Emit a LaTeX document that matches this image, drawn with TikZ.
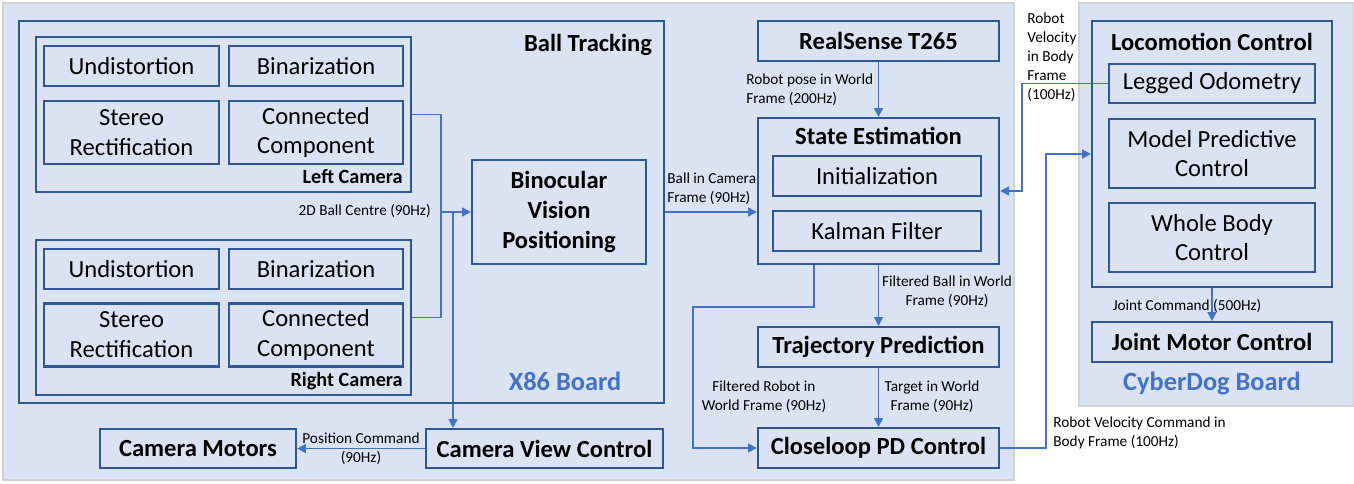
\documentclass[tikz,border=0pt]{standalone}
\usepackage{fontspec}
\setmainfont{Carlito}
\usepackage{tikz}
\usetikzlibrary{arrows.meta,calc}
\definecolor{bgblue}{HTML}{DAE3F3}
\definecolor{boxblue}{HTML}{2F5597}
\definecolor{lineblue}{HTML}{4472C4}
\newcommand{\boxfont}{\fontsize{14}{17}\selectfont}
\newcommand{\lblfont}{\fontsize{8.7}{10.8}\selectfont}
\newcommand{\camfont}{\fontsize{11.5}{14}\selectfont\bfseries}
\newcommand{\boardfont}{\fontsize{15}{18}\selectfont\bfseries}
\pgfdeclarelayer{bglayer}
\pgfdeclarelayer{edgelayer}
\pgfdeclarelayer{nodelayer}
\pgfsetlayers{bglayer,edgelayer,nodelayer,main}
\tikzstyle{region}=[fill=bgblue,draw=black!18,line width=0.6]
\tikzstyle{frame}=[rectangle,draw=boxblue,line width=1.2,inner sep=0pt]
\tikzstyle{block}=[rectangle,draw=boxblue,line width=1.2,inner sep=0pt,align=center,font=\boxfont]
\tikzstyle{bblock}=[block,font=\boxfont\bfseries]
\tikzstyle{title}=[inner sep=0pt,font=\boxfont\bfseries]
\tikzstyle{camlabel}=[inner sep=0pt,anchor=east,font=\camfont]
\tikzstyle{board}=[inner sep=0pt,font=\boardfont,text=lineblue]
\tikzstyle{lbl}=[inner sep=0pt,align=center,font=\lblfont]
\tikzstyle{flow}=[->,>={Triangle[length=5pt,width=5pt]},draw=lineblue,line width=1.0]
\tikzstyle{wire}=[-,draw=lineblue,line width=1.0]

\begin{document}
\begin{tikzpicture}[x=0.02cm,y=-0.02cm]
	\useasboundingbox (0,0) rectangle (1354,483);
	\begin{pgfonlayer}{bglayer}
		\draw [style=region] (3,3) rectangle (1014,480);
		\draw [style=region] (1079,3) rectangle (1354,406);
	\end{pgfonlayer}
	\begin{pgfonlayer}{nodelayer}
		% ball tracking on the x86 board
		\node [style=frame, minimum width=12.9cm, minimum height=7.64cm] (track) at (341.5,212) {};
		\node [style=title] (tracktitle) at (588,45) {Ball Tracking};
		\node [style=frame, minimum width=7.5cm, minimum height=3.1cm] (leftcam) at (223.5,114.5) {};
		\node [style=block, minimum width=3.5cm, minimum height=0.8cm] (lundist) at (131.5,66) {Undistortion};
		\node [style=block, minimum width=3.48cm, minimum height=0.8cm] (lbin) at (316,66) {Binarization};
		\node [style=block, minimum width=3.5cm, minimum height=1.26cm] (lstereo) at (131.5,132.5) {Stereo\\Rectification};
		\node [style=block, minimum width=3.48cm, minimum height=1.26cm] (lconn) at (316,132.5) {Connected\\Component};
		\node [style=camlabel] (leftname) at (403,177) {Left Camera};
		\node [style=frame, minimum width=7.5cm, minimum height=3.1cm] (rightcam) at (223.5,317.5) {};
		\node [style=block, minimum width=3.5cm, minimum height=0.8cm] (rundist) at (131.5,269) {Undistortion};
		\node [style=block, minimum width=3.48cm, minimum height=0.8cm] (rbin) at (316,269) {Binarization};
		\node [style=block, minimum width=3.5cm, minimum height=1.26cm] (rstereo) at (131.5,335) {Stereo\\Rectification};
		\node [style=block, minimum width=3.48cm, minimum height=1.26cm] (rconn) at (316,335) {Connected\\Component};
		\node [style=camlabel] (rightname) at (403,381) {Right Camera};
		\node [style=bblock, minimum width=3.48cm, minimum height=2.08cm] (bino) at (559,212) {Binocular\\Vision\\Positioning};
		\node [style=board] (x86) at (565,381) {X86 Board};
		\node [style=bblock, minimum width=4.74cm, minimum height=0.78cm] (camview) at (544.5,448.5) {Camera View Control};
		\node [style=bblock, minimum width=3.92cm, minimum height=0.78cm] (motors) at (198,448.5) {Camera Motors};
		% estimation and planning
		\node [style=bblock, minimum width=4.82cm, minimum height=0.8cm] (t265) at (878.5,41) {RealSense T265};
		\node [style=frame, minimum width=4.82cm, minimum height=2.92cm] (state) at (878.5,191) {};
		\node [style=title] (statetitle) at (878.5,136) {State Estimation};
		\node [style=block, minimum width=4.16cm, minimum height=0.8cm] (init) at (877,176) {Initialization};
		\node [style=block, minimum width=4.16cm, minimum height=0.8cm] (kalman) at (877,231) {Kalman Filter};
		\node [style=bblock, minimum width=4.82cm, minimum height=0.8cm] (traj) at (878.5,347) {Trajectory Prediction};
		\node [style=bblock, minimum width=4.82cm, minimum height=0.8cm] (pd) at (878.5,448) {Closeloop PD Control};
		% cyberdog board
		\node [style=frame, minimum width=4.8cm, minimum height=5.32cm] (loco) at (1212,154) {};
		\node [style=title] (locotitle) at (1212,42) {Locomotion Control};
		\node [style=block, minimum width=4.12cm, minimum height=0.78cm] (odom) at (1212,83.5) {Legged Odometry};
		\node [style=block, minimum width=4.12cm, minimum height=1.38cm] (mpc) at (1212,153.5) {Model Predictive\\Control};
		\node [style=block, minimum width=4.12cm, minimum height=1.38cm] (wbc) at (1212,237.5) {Whole Body\\Control};
		\node [style=bblock, minimum width=4.8cm, minimum height=0.8cm] (joint) at (1212,342) {Joint Motor Control};
		\node [style=board] (cyberdog) at (1212,383) {CyberDog Board};
		% labels
		\node [style=lbl, anchor=east] (l2d) at (431,211) {2D Ball Centre (90Hz)};
		\node [style=lbl, align=left, anchor=west] (lcam) at (667,189) {Ball in Camera\\Frame (90Hz)};
		\node [style=lbl, align=left, anchor=west] (lpose) at (746,90) {Robot pose in World\\Frame (200Hz)};
		\node [style=lbl] (lfball) at (947,292) {Filtered Ball in World\\Frame (90Hz)};
		\node [style=lbl] (ltarget) at (932,397) {Target in World\\Frame (90Hz)};
		\node [style=lbl] (lfrobot) at (764,397) {Filtered Robot in\\World Frame (90Hz)};
		\node [style=lbl] (lposcmd) at (361,449) {Position Command\\(90Hz)};
		\node [style=lbl, align=left, anchor=west] (lvel) at (1027,57) {Robot\\Velocity\\in Body\\Frame\\(100Hz)};
		\node [style=lbl, align=left, anchor=west] (lvelcmd) at (1053,433) {Robot Velocity Command in\\Body Frame (100Hz)};
		\node [style=lbl] (ljoint) at (1187,306) {Joint Command (500Hz)};
		\coordinate (merge) at (441,212);
		\coordinate (tap) at (453,212);
		\coordinate (fr1) at (814,307);
		\coordinate (fr2) at (693,307);
		\coordinate (vc) at (1046,448);
		\coordinate (od) at (1022,83.5);
	\end{pgfonlayer}
	\begin{pgfonlayer}{edgelayer}
		\draw [style=wire] (leftcam.east) -| (merge);
		\draw [style=wire] (rightcam.east) -| (merge);
		\draw [style=flow] (merge) to (bino.west);
		\draw [style=flow] (tap) to (tap |- camview.north);
		\draw [style=flow] (camview.west) to (motors.east);
		\draw [style=flow] (track.east |- bino.east) to (state.west |- bino.east);
		\draw [style=flow] (t265.south) to (state.north);
		\draw [style=flow] (state.south) to (traj.north);
		\draw [style=flow] (traj.south) to (pd.north);
		\draw [style=flow] (state.south -| fr1) -- (fr1) -- (fr2) |- (pd.west);
		\draw [style=flow] (pd.east) -- (vc) |- (loco.west);
		\draw [style=flow] (odom.west) -- (od) |- (state.east);
		\draw [style=flow] (loco.south) to (joint.north);
	\end{pgfonlayer}
\end{tikzpicture}
\end{document}
